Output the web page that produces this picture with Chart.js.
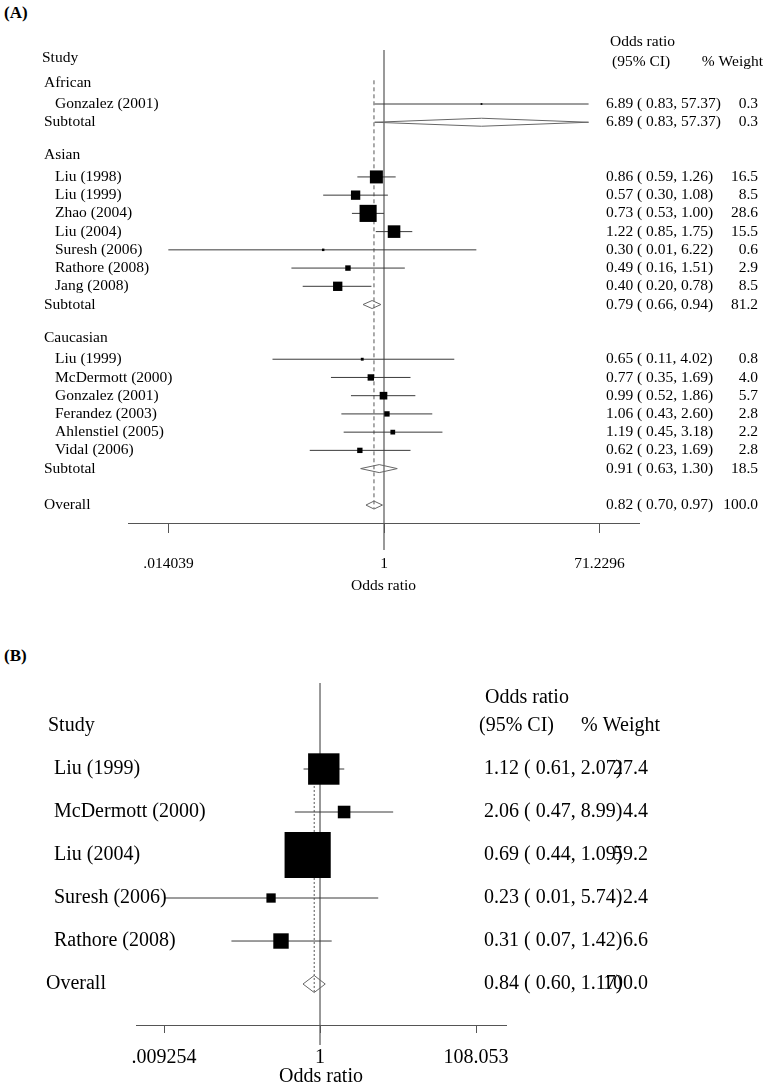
<!DOCTYPE html>
<html>
<head>
<meta charset="utf-8">
<script src="https://cdn.jsdelivr.net/npm/chart.js@4.4.0/dist/chart.umd.min.js"></script>
<style>
  body { margin: 0; background: #fff; overflow: hidden; }
  .panel { position: absolute; left: 0; }
  .tag { position: absolute; left: 4px; font: bold 17px "Liberation Serif", serif; color: #000; }
</style>
</head>
<body>
<div class="tag" style="top:3px">(A)</div>
<div class="tag" style="top:646px">(B)</div>
<canvas id="chartA" class="panel" style="top:0" width="769" height="600"></canvas>
<canvas id="chartB" class="panel" style="top:600px" width="769" height="500"></canvas>
<script>
// ---- panel A : by ethnicity ----
const studyA = ["Gonzalez (2001)", "Liu (1998)", "Liu (1999)", "Zhao (2004)", "Liu (2004)", "Suresh (2006)",
  "Rathore (2008)", "Jang (2008)", "Liu (1999)", "McDermott (2000)", "Gonzalez (2001)", "Ferandez (2003)",
  "Ahlenstiel (2005)", "Vidal (2006)"];
const rowA = [0, 4, 5, 6, 7, 8, 9, 10, 14, 15, 16, 17, 18, 19];
const orA = [6.89, 0.86, 0.57, 0.73, 1.22, 0.30, 0.49, 0.40, 0.65, 0.77, 0.99, 1.06, 1.19, 0.62];
const lowA = [0.83, 0.59, 0.30, 0.53, 0.85, 0.014, 0.16, 0.20, 0.11, 0.35, 0.52, 0.43, 0.45, 0.23];
const highA = [57.37, 1.26, 1.08, 1.00, 1.75, 6.22, 1.51, 0.78, 4.02, 1.69, 1.86, 2.60, 3.18, 1.69];
const weightA = [0.3, 16.5, 8.5, 28.6, 15.5, 0.6, 2.9, 8.5, 0.8, 4.0, 5.7, 2.8, 2.2, 2.8];

const groupA = ["African", "Asian", "Caucasian"];
const groupRowA = [-1, 3, 13];

const poolA = ["Subtotal", "Subtotal", "Subtotal", "Overall"];
const poolRowA = [1, 11, 20, 22];
const poolOrA = [6.89, 0.79, 0.91, 0.82];
const poolLowA = [0.83, 0.66, 0.63, 0.70];
const poolHighA = [57.37, 0.94, 1.30, 0.97];
const poolWeightA = [0.3, 81.2, 18.5, 100.0];

const tickA = [0.014039, 1, 71.2296];
const tickLabelA = [".014039", "1", "71.2296"];

// ---- panel B ----
const studyB = ["Liu (1999)", "McDermott (2000)", "Liu (2004)", "Suresh (2006)", "Rathore (2008)"];
const rowB = [0, 1, 2, 3, 4];
const orB = [1.12, 2.06, 0.69, 0.23, 0.31];
const lowB = [0.61, 0.47, 0.44, 0.0093, 0.07];
const highB = [2.07, 8.99, 1.09, 5.74, 1.42];
const weightB = [27.4, 4.4, 59.2, 2.4, 6.6];

const poolB = ["Overall"];
const poolRowB = [5];
const poolOrB = [0.84];
const poolLowB = [0.60];
const poolHighB = [1.17];
const poolWeightB = [100.0];

const tickB = [0.009254, 1, 108.053];
const tickLabelB = [".009254", "1", "108.053"];

const SERIF = '"Liberation Serif", "Times New Roman", serif';

function ciText(or, lo, hi) {
  return or.toFixed(2) + " ( " + lo.toFixed(2) + ", " + hi.toFixed(2) + ")";
}

function forestPlugin(p) {
  return {
    id: "forest",
    beforeDatasetsDraw(chart) {
      const { ctx, chartArea, scales: { x, y } } = chart;
      ctx.save();
      // line of no effect
      const x1 = x.getPixelForValue(1);
      ctx.strokeStyle = "#555";
      ctx.lineWidth = 1.2;
      ctx.beginPath();
      ctx.moveTo(x1, y.getPixelForValue(p.refTop));
      ctx.lineTo(x1, chartArea.bottom + p.refBelow);
      ctx.stroke();
      // dashed line at the overall estimate
      const xo = x.getPixelForValue(p.poolOr[p.poolOr.length - 1]);
      ctx.lineWidth = 1;
      ctx.setLineDash(p.dash);
      ctx.beginPath();
      ctx.moveTo(xo, y.getPixelForValue(p.dashTop));
      ctx.lineTo(xo, y.getPixelForValue(p.dashBottom));
      ctx.stroke();
      ctx.setLineDash([]);
      // confidence intervals
      ctx.strokeStyle = "#3a3a3a";
      p.rows.forEach((r, i) => {
        const py = y.getPixelForValue(r);
        ctx.beginPath();
        ctx.moveTo(x.getPixelForValue(p.low[i]), py);
        ctx.lineTo(x.getPixelForValue(p.high[i]), py);
        ctx.stroke();
      });
      ctx.restore();
    },
    afterDatasetsDraw(chart) {
      const { ctx, scales: { x, y } } = chart;
      ctx.save();
      // pooled diamonds
      ctx.strokeStyle = "#666";
      ctx.lineWidth = 1;
      p.poolRows.forEach((r, i) => {
        const py = y.getPixelForValue(r);
        ctx.beginPath();
        ctx.moveTo(x.getPixelForValue(p.poolLow[i]), py);
        ctx.lineTo(x.getPixelForValue(p.poolOr[i]), py - p.diamondH);
        ctx.lineTo(x.getPixelForValue(p.poolHigh[i]), py);
        ctx.lineTo(x.getPixelForValue(p.poolOr[i]), py + p.diamondH);
        ctx.closePath();
        ctx.stroke();
      });
      // texts
      ctx.fillStyle = "#000";
      ctx.font = p.fontSize + "px " + SERIF;
      ctx.textBaseline = "middle";
      const put = (t, px, row, align) => {
        ctx.textAlign = align || "left";
        ctx.fillText(t, px, y.getPixelForValue(row));
      };
      put("Study", p.studyX, p.studyRow);
      put("Odds ratio", p.orHeadX, p.orHeadRow);
      put("(95% CI)", p.ciHeadX, p.ciHeadRow);
      put("% Weight", p.wHeadX, p.ciHeadRow, "right");
      (p.groups || []).forEach((g, i) => put(g, p.groupX, p.groupRows[i] - 0.18));
      p.names.forEach((n, i) => {
        put(n, p.nameX, p.rows[i]);
        put(ciText(p.or[i], p.low[i], p.high[i]), p.valueX, p.rows[i]);
        put(p.weight[i].toFixed(1), p.weightX, p.rows[i], "right");
      });
      p.poolNames.forEach((n, i) => {
        put(n, p.poolX, p.poolRows[i]);
        put(ciText(p.poolOr[i], p.poolLow[i], p.poolHigh[i]), p.valueX, p.poolRows[i]);
        put(p.poolWeight[i].toFixed(1), p.weightX, p.poolRows[i], "right");
      });
      ctx.restore();
    }
  };
}

function makeChart(id, p) {
  const font = { family: SERIF, size: p.fontSize };
  return new Chart(document.getElementById(id), {
    type: "scatter",
    data: {
      datasets: [{
        data: p.rows.map((r, i) => ({ x: p.or[i], y: r })),
        pointStyle: "rect",
        pointRadius: p.weight.map(w => p.boxK * Math.sqrt(w) / 2 / Math.SQRT1_2),
        pointHoverRadius: p.weight.map(w => p.boxK * Math.sqrt(w) / 2 / Math.SQRT1_2),
        backgroundColor: "#000",
        borderWidth: 0
      }]
    },
    options: {
      responsive: false,
      animation: false,
      events: [],
      layout: { padding: p.padding },
      plugins: { legend: { display: false }, tooltip: { enabled: false } },
      scales: {
        x: {
          type: "logarithmic",
          bounds: "data",
          min: p.xMin,
          max: p.xMax,
          afterBuildTicks: s => { s.ticks = p.ticks.map(v => ({ value: v })); },
          afterFit: s => { s.height = p.axisH; },
          grid: { drawOnChartArea: false, tickLength: p.tickLen, color: "#555" },
          border: { color: "#555" },
          ticks: {
            callback: (v, i) => p.tickLabels[i],
            font: { family: SERIF, size: p.tickSize },
            color: "#000",
            padding: p.tickPad,
            autoSkip: false,
            maxRotation: 0
          },
          title: { display: true, text: "Odds ratio", font: font, color: "#000", padding: 0 }
        },
        y: { type: "linear", bounds: "data", reverse: true, min: p.yMin, max: p.yMax, display: false }
      }
    },
    plugins: [forestPlugin(p)]
  });
}

makeChart("chartA", {
  names: studyA, rows: rowA, or: orA, low: lowA, high: highA, weight: weightA,
  groups: groupA, groupRows: groupRowA,
  poolNames: poolA, poolRows: poolRowA, poolOr: poolOrA, poolLow: poolLowA, poolHigh: poolHighA, poolWeight: poolWeightA,
  ticks: tickA, tickLabels: tickLabelA,
  xMin: 0.00630, xMax: 155.6, yMin: -3.511, yMax: 22.984,
  padding: { left: 128, right: 130, top: 40, bottom: 5 },
  axisH: 72, tickLen: 10, tickPad: 22, fontSize: 15.5, tickSize: 15.5,
  boxK: 3.2, diamondH: 4, dash: [4, 3],
  refTop: -2.96, refBelow: 27, dashTop: -1.3, dashBottom: 22.2,
  studyX: 42, studyRow: -2.52, orHeadX: 610, orHeadRow: -3.40, ciHeadX: 612, ciHeadRow: -2.30, wHeadX: 763,
  groupX: 44, nameX: 55, poolX: 44, valueX: 606, weightX: 758
});

makeChart("chartB", {
  names: studyB, rows: rowB, or: orB, low: lowB, high: highB, weight: weightB,
  poolNames: poolB, poolRows: poolRowB, poolOr: poolOrB, poolLow: poolLowB, poolHigh: poolHighB, poolWeight: poolWeightB,
  ticks: tickB, tickLabels: tickLabelB,
  xMin: 0.00399, xMax: 265.9, yMin: -2.535, yMax: 5.953,
  padding: { left: 136, right: 263, top: 60, bottom: 11.6 },
  axisH: 63.4, tickLen: 8, tickPad: 12.6, fontSize: 20, tickSize: 20,
  boxK: 6.0, diamondH: 8.5, dash: [2, 2],
  refTop: -2.0, refBelow: 20, dashTop: -0.35, dashBottom: 5.19,
  studyX: 48, studyRow: -1.0, orHeadX: 485, orHeadRow: -1.65, ciHeadX: 479, ciHeadRow: -1.0, wHeadX: 660,
  nameX: 54, poolX: 46, valueX: 484, weightX: 648
});
</script>
</body>
</html>
